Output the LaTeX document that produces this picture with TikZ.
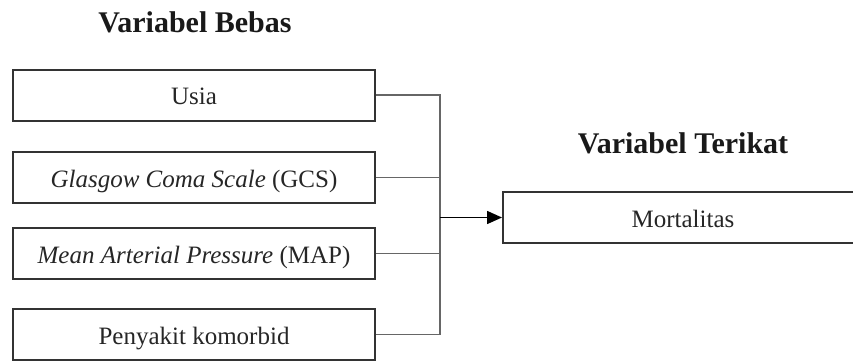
\documentclass[tikz,border=0pt]{standalone}
\usepackage{fontspec}
\setmainfont{Liberation Serif}
\usetikzlibrary{arrows.meta}
\begin{document}
\begin{tikzpicture}[x=1pt,y=-1pt,
  varbox/.style={draw=black!80, line width=2pt, rectangle, minimum width=362pt, minimum height=51pt,
    inner sep=0pt, font=\fontsize{25}{28}\selectfont, text height=19pt, text depth=0pt, text=black!85},
  title/.style={font=\fontsize{30}{34}\selectfont\bfseries, anchor=base, inner sep=0pt, text=black!90},
  conn/.style={draw=black!60, line width=1.3pt},
  arr/.style={draw=black, line width=1.6pt, -{Triangle[length=15pt,width=13pt]}}]
\useasboundingbox (0,0) rectangle (853,361);
\clip (0,0) rectangle (853,361);
\node[title] (tb) at (195,33) {Variabel Bebas};
\node[title] (tt) at (683,153) {Variabel Terikat};
\node[varbox] (usia) at (194,95) {Usia};
\node[varbox] (gcs) at (194,177.5) {\textit{Glasgow Coma Scale} (GCS)};
\node[varbox] (map) at (194,253.5) {\textit{Mean Arterial Pressure} (MAP)};
\node[varbox] (pen) at (194,334.5) {Penyakit komorbid};
\node[varbox, minimum width=360pt] (mort) at (683,217.5) {Mortalitas};
\coordinate (j) at (440,217.5);
\draw[conn] (usia.east) -- (usia.east -| j) -- (pen.east -| j) -- (pen.east);
\draw[conn] (gcs.east) -- (gcs.east -| j);
\draw[conn] (map.east) -- (map.east -| j);
\draw[arr] (j) -- (mort.west);
\end{tikzpicture}
\end{document}
